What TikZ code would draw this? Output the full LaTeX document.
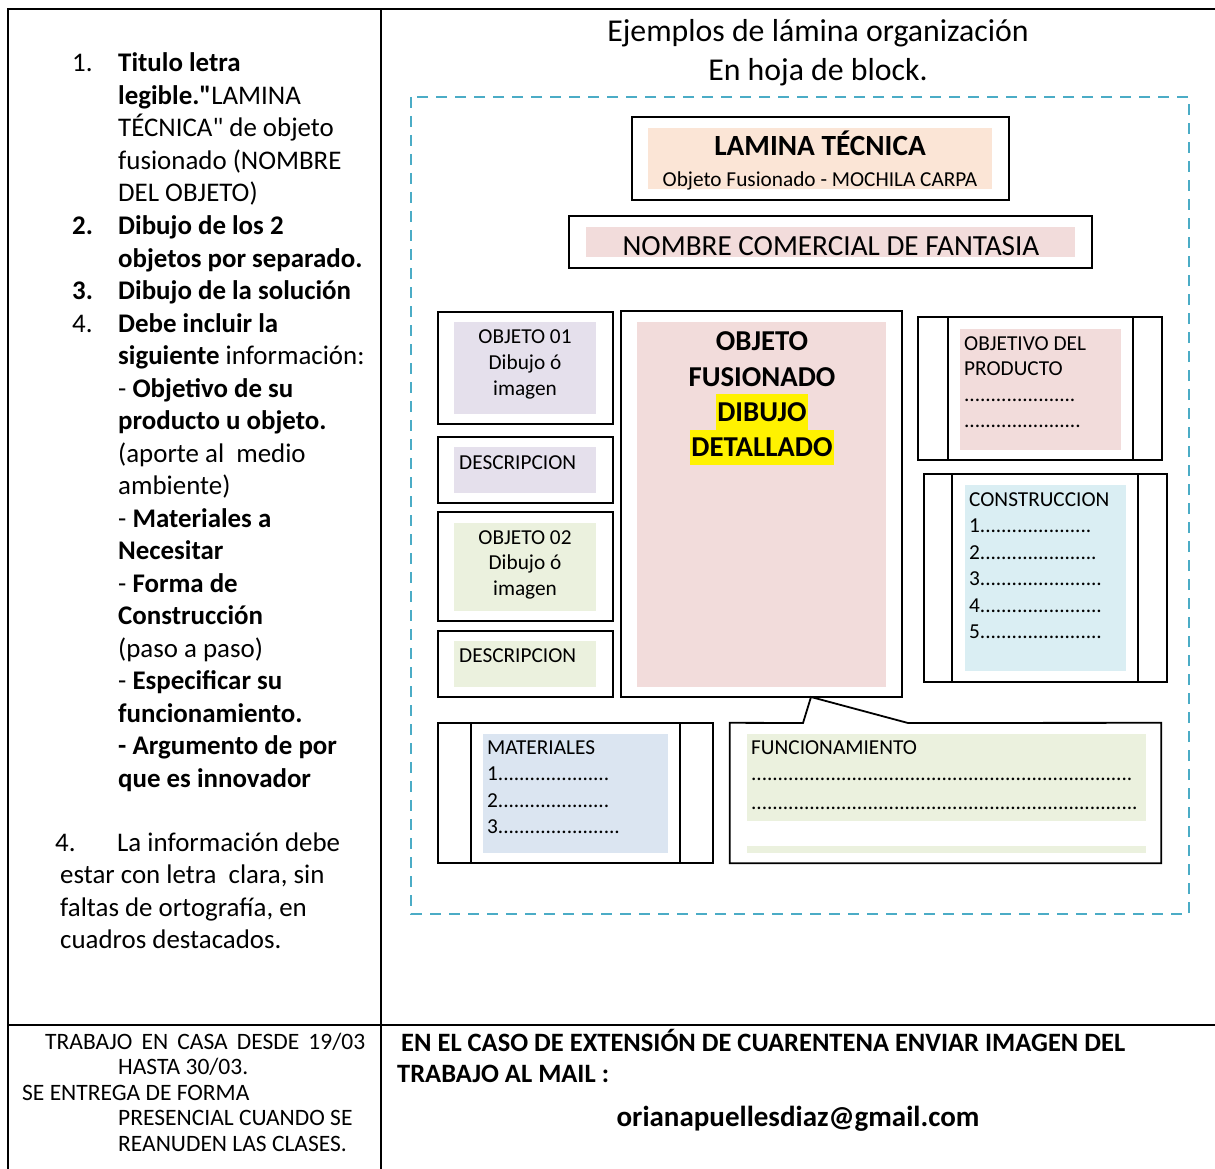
\documentclass[tikz,border=0pt]{standalone}
\usepackage{fontspec}
\setmainfont{Carlito}[Ligatures=TeXOff]
\usetikzlibrary{fit}

\definecolor{dashblue}{HTML}{4BACC6}
\definecolor{peach}{HTML}{FBE5D6}
\definecolor{rose}{HTML}{F2DCDB}
\definecolor{lilac}{HTML}{E5E0EC}
\definecolor{sage}{HTML}{EBF1DE}
\definecolor{aqua}{HTML}{DAEEF3}
\definecolor{steel}{HTML}{DBE5F1}

\newcommand{\fsz}[1]{\fontsize{#1}{#1}\selectfont}
\newcommand{\dotrow}[1]{\hbox to #1pt{\leaders\hbox to 5.3pt{\hss.\hss}\hfill}}

\begin{document}
\begin{tikzpicture}[x=1pt,y=-1pt,
  frame/.style={draw,line width=1.8pt,inner sep=0pt},
  patch/.style={inner sep=0pt},
  rule/.style={line width=2.4pt},
  ln/.style={inner sep=0pt,anchor=base west},
  lnc/.style={inner sep=0pt,anchor=base},
  big/.style={font=\fsz{26.9}},
  mid/.style={font=\fsz{21.3}},
  head/.style={inner sep=0pt,font=\bfseries\fsz{28.8}},
  hl/.style={head,fill=yellow,inner xsep=1pt,minimum height=35.5pt}]
\useasboundingbox (0,0) rectangle (1215,1169);

% table
\draw[rule] (1215,9) -- (8,9) -- (8,1169);
\draw[rule] (381,9) -- (381,1169);
\draw[rule] (8,1025) -- (1215,1025);

% left column
\foreach \i/\t in {1/{\textbf{Titulo letra}}, 2/{\textbf{legible."}LAMINA},
    3/{TÉCNICA" de objeto}, 4/{fusionado (NOMBRE}, 5/{DEL OBJETO)},
    6/{\textbf{Dibujo de los 2}}, 7/{\textbf{objetos por separado.}},
    8/{\textbf{Dibujo de la solución}}, 9/{\textbf{Debe incluir la}},
    10/{\textbf{siguiente} información:}, 11/{- \textbf{Objetivo de su}},
    12/{\textbf{producto u objeto.}}, 13/{(aporte al\ \ medio}, 14/{ambiente)},
    15/{- \textbf{Materiales a}}, 16/{\textbf{Necesitar}}, 17/{- \textbf{Forma de}},
    18/{\textbf{Construcción}}, 19/{(paso a paso)}, 20/{- \textbf{Especificar su}},
    21/{\textbf{funcionamiento.}}, 22/{\textbf{- Argumento de por}},
    23/{\textbf{que es innovador}}}
  \node[ln,big] (l\i) at (118,{72+32.5*(\i-1)}) {\t};
\foreach \i/\r/\t in {1/1/{1.}, 2/6/{\textbf{2.}}, 3/8/{\textbf{3.}}, 4/9/{4.}}
  \node[ln,big] (n\i) at (72,{72+32.5*(\r-1)}) {\t};

\node[ln,big] (n5) at (55,851) {4.};
\node[ln,big] (r1) at (117,851) {La información debe};
\foreach \i/\t in {2/{estar con letra\ \ clara, sin}, 3/{faltas de ortografía, en},
    4/{cuadros destacados.}}
  \node[ln,big] (r\i) at (60,{851+32.5*(\i-1)}) {\t};

% bottom row
\node[ln,font=\fsz{23.5}] (b1) at (45,1049)
  {\hbox to 320pt{TRABAJO\hfill EN\hfill CASA\hfill DESDE\hfill 19/03}};
\node[ln,font=\fsz{23.5}] (b2) at (118,1074) {HASTA 30/03.};
\node[ln,font=\fsz{23.5}] (b3) at (22,1100) {SE ENTREGA DE FORMA};
\node[ln,font=\fsz{23.5}] (b4) at (118,1125) {PRESENCIAL CUANDO SE};
\node[ln,font=\fsz{23.5}] (b5) at (118,1151) {REANUDEN LAS CLASES.};

\node[ln,font=\bfseries\fsz{26.5}] (m1) at (401,1051)
  {EN EL CASO DE EXTENSIÓN DE CUARENTENA ENVIAR IMAGEN DEL};
\node[ln,font=\bfseries\fsz{26.5}] (m2) at (397,1082) {TRABAJO AL MAIL :};
\node[lnc,font=\bfseries\fsz{29}] (mail) at (798,1126) {orianapuellesdiaz@gmail.com};

% right column: example sheet
\node[lnc,font=\fsz{31.8}] (t1) at (818,42) {Ejemplos de lámina organización};
\node[lnc,font=\fsz{31.8}] (t2) at (818,81) {En hoja de block.};
\draw[dashblue,line width=2.6pt,dash pattern=on 11pt off 8pt] (411,97) rectangle (1189,914);

\node[frame,fit={(632,117)(1009,200)}] (lam) {};
\node[patch,fill=peach,fit={(648,128)(992,189)}] {};
\node[lnc,font=\bfseries\fsz{29.3}] (lamt) at (820,156) {LAMINA TÉCNICA};
\node[lnc,mid] (lams) at (820,186) {Objeto Fusionado - MOCHILA CARPA};

\node[frame,fit={(569,216)(1092,268)}] (nom) {};
\node[patch,fill=rose,fit={(586,227)(1075,257)}] {};
\node[lnc,font=\fsz{29.2}] (nomt) at (831,255) {NOMBRE COMERCIAL DE FANTASIA};

% left boxes
\node[frame,fit={(438,312)(613,424)}] (obj1) {};
\node[patch,fill=lilac,fit={(454,322)(596,414)}] {};
\node[frame,fit={(438,437)(613,503)}] (des1) {};
\node[patch,fill=lilac,fit={(454,447)(596,493)}] {};
\node[frame,fit={(438,512)(613,621)}] (obj2) {};
\node[patch,fill=sage,fit={(454,523)(596,611)}] {};
\node[frame,fit={(438,631)(613,697)}] (des2) {};
\node[patch,fill=sage,fit={(454,641)(596,687)}] {};
\foreach \i/\t in {1/{OBJETO 01}, 2/{Dibujo ó}, 3/{imagen}}
  \node[lnc,mid] (oa\i) at (525,{343+26*(\i-1)}) {\t};
\foreach \i/\t in {1/{OBJETO 02}, 2/{Dibujo ó}, 3/{imagen}}
  \node[lnc,mid] (ob\i) at (525,{544+25.5*(\i-1)}) {\t};
\node[ln,mid] (da) at (459,469) {DESCRIPCION};
\node[ln,mid] (db) at (459,662) {DESCRIPCION};

% fused object
\node[frame,fit={(621,311)(902,697)}] (fused) {};
\node[patch,fill=rose,fit={(637,322)(886,687)}] {};
\node[head] (f1) at (762,341) {OBJETO};
\node[head] (f2) at (762,377) {FUSIONADO};
\node[hl] (f3) at (762,412) {DIBUJO};
\node[hl] (f4) at (762,447.5) {DETALLADO};

% right boxes
\node[frame,fit={(918,317)(1162,460)}] (goal) {};
\draw[line width=1.8pt] ([xshift=31pt]goal.north west) -- ([xshift=31pt]goal.south west);
\draw[line width=1.8pt] ([xshift=-30pt]goal.north east) -- ([xshift=-30pt]goal.south east);
\node[patch,fill=rose,fit={(960,329)(1121,450)}] {};
\node[ln,mid] (g1) at (964,350) {OBJETIVO DEL};
\node[ln,mid] (g2) at (964,375) {PRODUCTO};
\node[ln,mid] (g3) at (964,401) {\dotrow{113}};
\node[ln,mid] (g4) at (964,427) {\dotrow{117}};

\node[frame,fit={(924,474)(1167,682)}] (build) {};
\draw[line width=1.8pt] ([xshift=29pt]build.north west) -- ([xshift=29pt]build.south west);
\draw[line width=1.8pt] ([xshift=-30pt]build.north east) -- ([xshift=-30pt]build.south east);
\node[patch,fill=aqua,fit={(965,485)(1126,671)}] {};
\node[ln,mid] (c0) at (969,506) {CONSTRUCCION};
\foreach \k/\w in {1/113,2/117,3/127,4/122,5/127}
  \node[ln,mid] (c\k) at (969,{506+26.5*\k}) {\k\dotrow{\w}};

% bottom boxes
\node[frame,fit={(438,723)(713,863)}] (mat) {};
\draw[line width=1.8pt] ([xshift=34pt]mat.north west) -- ([xshift=34pt]mat.south west);
\draw[line width=1.8pt] ([xshift=-34pt]mat.north east) -- ([xshift=-34pt]mat.south east);
\node[patch,fill=steel,fit={(483,734)(668,853)}] {};
\node[ln,mid] (ma0) at (487,754) {MATERIALES};
\foreach \k/\w in {1/114,2/116,3/127}
  \node[ln,mid] (ma\k) at (487,{754+26.5*\k}) {\k\dotrow{\w}};

\node[patch,fit={(730,723)(1161,863)}] (func) {};
\coordinate (tip) at (811,697);
\draw[line width=1.8pt] (803,723) -- (tip) -- (908,723) -- (func.north east)
  -- (func.south east) -- (func.south west) -- (func.north west) -- cycle;
\node[patch,fill=sage,fit={(747,734)(1146,821)}] {};
\node[patch,fill=sage,fit={(747,846)(1146,853)}] {};
\node[ln,mid] (fu0) at (751,754) {FUNCIONAMIENTO};
\node[ln,mid] (fu1) at (751,780) {\dotrow{386}};
\node[ln,mid] (fu2) at (751,809) {\dotrow{388}};
\end{tikzpicture}
\end{document}
